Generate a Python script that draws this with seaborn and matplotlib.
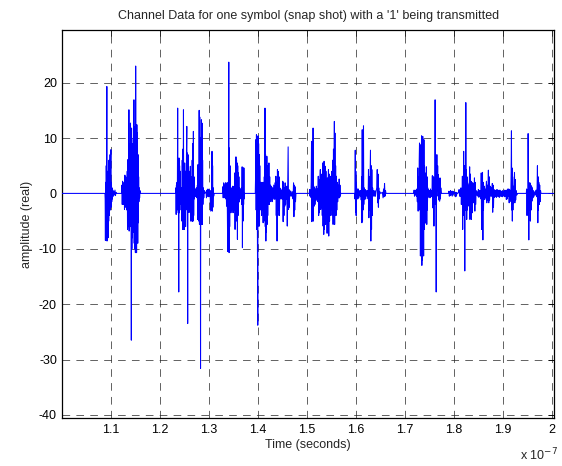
import numpy as np
import pandas as pd
import matplotlib
matplotlib.use("Agg")
import matplotlib.pyplot as plt
import seaborn as sns

# ---- data: time in units of 1e-7 s, amplitude (real) ----
b1_t = [1.0885, 1.0890, 1.0895, 1.0900, 1.0905, 1.0912, 1.0918, 1.0924, 1.0928, 1.0934, 1.0940, 1.0946, 1.0951, 1.0957,
        1.0962, 1.0968, 1.0973, 1.0979, 1.0985, 1.0990, 1.0996, 1.1002, 1.1007, 1.1012, 1.1018, 1.1024, 1.1030, 1.1038,
        1.1046, 1.1055, 1.1065, 1.1075, 1.1090, 1.1100, 1.1110, 1.1120]
b1_a = [0, -1, -8.5, 2, -8, 5, -3, 19.3, -8.6, 3, -7, 4, -8, 2,
        -5, 6, -4, 5, -2, 7, -3, 5.5, 7.9, -2.5, 2, -1.5, 1, -1,
        0.6, -0.5, 0.3, -0.3, 0.6, -0.4, 0.2, 0]

b2_t = [1.1225, 1.1232, 1.1238, 1.1245, 1.1252, 1.1260, 1.1268, 1.1276, 1.1284, 1.1292, 1.1300, 1.1308, 1.1316, 1.1324,
        1.1332, 1.1340, 1.1346, 1.1352, 1.1358, 1.1364, 1.1369, 1.1374, 1.1379, 1.1385, 1.1390, 1.1396, 1.1401, 1.1406,
        1.1412, 1.1418, 1.1423, 1.1428, 1.1434, 1.1440, 1.1446, 1.1452, 1.1458, 1.1464, 1.1470, 1.1476, 1.1482, 1.1488,
        1.1494, 1.1500, 1.1506, 1.1512, 1.1518, 1.1524, 1.1530, 1.1536, 1.1542, 1.1548, 1.1554, 1.1560, 1.1566, 1.1572,
        1.1578, 1.1585, 1.1592, 1.1600, 1.1610]
b2_a = [0, 1.5, -2, 2.2, -1.5, 1, -2, 2, -2.9, 3.3, -2.5, 3, -2, 2.5,
        -3, 4, -6.5, 6.1, -4, 5, -6, 15.1, -6.8, 9, -5, 8, -4, 12.7,
        -6, 5, -26.5, 11.8, -10, 9, -8, 6, -5, 10, -7, 16.9, -9, 8,
        -10, 12, -10.7, 23, -8, 10, -10.7, 12.4, -6, 11, -9, 7, -5.3, 3,
        -1.5, 1, -0.8, 0.5, 0]

b3_t = [1.2325, 1.2331, 1.2337, 1.2343, 1.2349, 1.2355, 1.2361, 1.2368, 1.2374, 1.2380, 1.2386, 1.2390, 1.2395, 1.2401,
        1.2407, 1.2413, 1.2419, 1.2425, 1.2432, 1.2440, 1.2448, 1.2455, 1.2461, 1.2467, 1.2473, 1.2479, 1.2486, 1.2492,
        1.2498, 1.2505, 1.2511, 1.2518, 1.2524, 1.2530, 1.2536, 1.2542, 1.2548, 1.2554, 1.2560, 1.2566, 1.2572, 1.2578,
        1.2584, 1.2590, 1.2596, 1.2602, 1.2608, 1.2614, 1.2620, 1.2628, 1.2634, 1.2640, 1.2646, 1.2652, 1.2658, 1.2664,
        1.2670, 1.2676, 1.2682, 1.2688, 1.2694, 1.2700, 1.2706, 1.2714, 1.2722, 1.2730, 1.2740, 1.2750, 1.2760, 1.2770,
        1.2776, 1.2782, 1.2788, 1.2794, 1.2800, 1.2806, 1.2812, 1.2818, 1.2824, 1.2830, 1.2834, 1.2840, 1.2846, 1.2852,
        1.2858, 1.2864, 1.2870, 1.2876, 1.2882, 1.2890, 1.2900, 1.2910, 1.2920, 1.2945, 1.2955, 1.2965, 1.2975, 1.2985,
        1.2995, 1.3005, 1.3015, 1.3025, 1.3035, 1.3042, 1.3050, 1.3056, 1.3062, 1.3068, 1.3074, 1.3080, 1.3086, 1.3094,
        1.3102, 1.3112]
b3_a = [0, 1, -3.8, 1.5, -3.5, 2, -2, 15.4, -3, 6, -4, -17.8, 6.4, -3.5,
        5, -3, 4, -2, 1, -1, 1, -5, 6, -6.5, 8, -6, 15.1, -6.5,
        4, -6.5, 5.5, -5, 4, -6, 3, -2, 8, 12.1, -3, 7.3, -23.5, 7,
        -3.4, 4.9, -2.5, 4, -3.4, 3, -2, 4.9, -5, 3, -4, 2, -5, 6,
        -5, 9, -5, 11.2, -4, 3, -1, 0.8, -0.6, 0.8, -0.5, 1, -0.8, 1.5,
        -4.7, 5.2, -4, 4, -5, 15, -5.6, 13.8, -5, 8, -31.6, 10, -5.6, 13.3,
        -5, 12.7, -5.6, 6, -2, 1, -0.8, 0.5, 0, 0.3, -0.8, 0.6, -0.5, 0.8,
        -0.6, 0.7, -0.5, 0.5, -2, -3.2, 0.5, -3, 1, 7.6, -3.2, 5, -2.5, 1,
        -0.5, 0]

b4_t = [1.3280, 1.3288, 1.3296, 1.3305, 1.3313, 1.3322, 1.3330, 1.3340, 1.3348, 1.3356, 1.3364, 1.3372, 1.3380, 1.3388,
        1.3394, 1.3400, 1.3410, 1.3416, 1.3422, 1.3428, 1.3434, 1.3440, 1.3447, 1.3454, 1.3461, 1.3468, 1.3476, 1.3484,
        1.3490, 1.3497, 1.3504, 1.3511, 1.3518, 1.3526, 1.3532, 1.3538, 1.3544, 1.3550, 1.3556, 1.3562, 1.3568, 1.3574,
        1.3580, 1.3586, 1.3592, 1.3598, 1.3604, 1.3610, 1.3616, 1.3622, 1.3630, 1.3640, 1.3650, 1.3660, 1.3668, 1.3676,
        1.3682, 1.3688, 1.3694, 1.3700, 1.3706, 1.3712, 1.3718, 1.3724, 1.3732]
b4_a = [0, 1.2, -0.8, 1.9, -0.6, 1.5, -0.8, 1.9, -1, 1.9, -2.3, 1.5, -2, -10.5,
        2, -10, 23.7, -10.7, 8.2, -6, 5, -3, 0.7, -3.5, 1, -3, 0.8, -2.5,
        1.3, -3.5, 1, -3, 1.3, -2, 3.7, -6.5, 3, -5, 6.6, -4, 6, -5,
        5.5, -8.3, 5, -4, 3.7, -1.7, 3, -1.5, 1, -1, 0.8, -0.8, 1, -2,
        4.8, -9.8, 4.5, -5, 4.6, -2, 4.6, -1, 0]

b5_t = [1.3950, 1.3956, 1.3962, 1.3968, 1.3974, 1.3980, 1.3986, 1.3992, 1.3997, 1.4001, 1.4006, 1.4012, 1.4018, 1.4024,
        1.4030, 1.4036, 1.4042, 1.4048, 1.4054, 1.4062, 1.4070, 1.4078, 1.4086, 1.4094, 1.4102, 1.4110, 1.4118, 1.4126,
        1.4134, 1.4140, 1.4148, 1.4154, 1.4160, 1.4166, 1.4172, 1.4178, 1.4186, 1.4192, 1.4198, 1.4204, 1.4212, 1.4220,
        1.4228, 1.4236, 1.4244, 1.4252, 1.4262, 1.4272, 1.4282, 1.4292, 1.4302, 1.4314, 1.4326, 1.4338, 1.4350, 1.4360,
        1.4370, 1.4378, 1.4386, 1.4394, 1.4402, 1.4410, 1.4418, 1.4426, 1.4434, 1.4442, 1.4450, 1.4460, 1.4470, 1.4480,
        1.4490, 1.4500, 1.4510, 1.4518, 1.4526, 1.4534, 1.4542, 1.4552, 1.4560, 1.4568, 1.4576, 1.4586, 1.4594, 1.4602,
        1.4610, 1.4620, 1.4628, 1.4636, 1.4644, 1.4652, 1.4662, 1.4675, 1.4690, 1.4705, 1.4720, 1.4730, 1.4738, 1.4746,
        1.4754, 1.4762, 1.4770, 1.4780]
b5_a = [0, 3, 9.7, -3, 10.6, -6.5, 9, -5, -16.6, -23.8, 10.4, -5.9, 9, -4,
        7, -5.9, 5, -3, 2, -1.7, 2, -4, 1.5, -3, 2, -5.3, 2, -5,
        3, -4, 15.4, -6, 7, -8.6, 6, -7, 6.7, -5.6, 5, -4, 4, -2,
        5.5, -2, 3, -1.5, 1.5, -1, 1.2, -1.5, 1, -1, 1.5, -1.1, 1.9, -1,
        3.1, -4, 2, -8.6, 4.3, -4, 4, -3, 3, -4, 1, -1, 0.8, -1,
        0.5, -1, 2.2, -5.1, 2, -4, 1, -2.3, 1.9, -2, 1, -1, 1.3, -5.9,
        1, 8.4, -2.9, 0.7, -2.5, 0.5, -0.5, 0.4, -0.5, 0.3, -1, 1.9, -4.2, 1.5,
        -3, 1.2, -1.5, 0]

b6_t = [1.5050, 1.5058, 1.5066, 1.5074, 1.5082, 1.5090, 1.5097, 1.5104, 1.5112, 1.5120, 1.5128, 1.5134, 1.5142, 1.5150,
        1.5158, 1.5166, 1.5175, 1.5185, 1.5195, 1.5205, 1.5215, 1.5225, 1.5234, 1.5242, 1.5250, 1.5258, 1.5266, 1.5276,
        1.5284, 1.5292, 1.5300, 1.5308, 1.5316, 1.5324, 1.5332, 1.5340, 1.5346, 1.5352, 1.5358, 1.5364, 1.5370, 1.5376,
        1.5382, 1.5390, 1.5398, 1.5406, 1.5414, 1.5420, 1.5428, 1.5436, 1.5442, 1.5448, 1.5456, 1.5464, 1.5472, 1.5480,
        1.5488, 1.5496, 1.5504, 1.5512, 1.5520, 1.5528, 1.5536, 1.5544, 1.5552, 1.5562, 1.5568, 1.5574, 1.5580, 1.5588,
        1.5596, 1.5604, 1.5612, 1.5620, 1.5630, 1.5640, 1.5650, 1.5660, 1.5668, 1.5676, 1.5684, 1.5692]
b6_a = [0, 0.7, -0.5, 0.6, -0.7, 2, 9.4, -5.1, 6, -4, 11.8, -5, 1.3, -2.3,
        1, -2, 0.8, -1.3, 1.3, -1, 0.8, -1.5, 3.1, -4, 2.5, -3.5, 2, 4.3,
        -2.9, 3.5, -2.5, 3, -4, 5.5, -5.9, 5, -7.4, 5.8, -6.5, 4.5, -5, 4.9,
        -5.6, 4, -4, 2, -7.2, 2.8, -3, 2, 4.3, -7.7, 3.5, -5, 2, 3.1,
        -4, 2.5, -3, 4, -4, 6, -5.6, 8, -5, 13, -5.6, 10.9, -4, 5,
        -4, 3.1, -3, 2, -1.5, 1.5, -0.8, 2.6, -0.8, 1.5, -0.5, 0]

b7_t = [1.5975, 1.5982, 1.5988, 1.5994, 1.6000, 1.6006, 1.6012, 1.6020, 1.6030, 1.6040, 1.6050, 1.6062, 1.6075, 1.6088,
        1.6100, 1.6110, 1.6118, 1.6124, 1.6130, 1.6136, 1.6142, 1.6148, 1.6156, 1.6162, 1.6170, 1.6180, 1.6190, 1.6200,
        1.6212, 1.6225, 1.6238, 1.6250, 1.6258, 1.6266, 1.6274, 1.6282, 1.6290, 1.6298, 1.6306, 1.6314, 1.6320, 1.6326,
        1.6334, 1.6342, 1.6352, 1.6365, 1.6378, 1.6390, 1.6400, 1.6410, 1.6428, 1.6436, 1.6444, 1.6452, 1.6460, 1.6468,
        1.6476, 1.6490, 1.6510, 1.6540, 1.6555, 1.6565, 1.6575, 1.6585, 1.6595, 1.6605, 1.6615]
b7_a = [0, -1, 7.8, -3.4, 4, -4, 2, -1, 0.8, -1, 0.8, -0.8, 0.5, -0.5,
        0.5, -1.2, 3, -5.3, 11.5, -5, 6, -3, 12.2, -2, 1, -1.1, 0.7, -1,
        0.5, -0.5, 0.5, -1, 4.3, -4.4, 3, -3, 2, 7.8, -8.6, 5, -6.5, 4.3,
        -4, 1, -0.5, 0.5, -0.5, 0.5, -0.5, 0.3, 1, 4.3, -1.7, 3.5, -2.5, 1,
        -1, 0.3, 0, 0.2, -0.8, 0.8, -0.6, 1.8, -0.5, 0.5, 0]

b8_t = [1.7180, 1.7188, 1.7196, 1.7205, 1.7215, 1.7225, 1.7235, 1.7245, 1.7254, 1.7262, 1.7270, 1.7278, 1.7286, 1.7292,
        1.7298, 1.7304, 1.7310, 1.7316, 1.7322, 1.7328, 1.7334, 1.7340, 1.7346, 1.7352, 1.7358, 1.7364, 1.7370, 1.7376,
        1.7382, 1.7388, 1.7394, 1.7400, 1.7406, 1.7412, 1.7418, 1.7424, 1.7430, 1.7438, 1.7446, 1.7452, 1.7458, 1.7466,
        1.7474, 1.7482, 1.7492, 1.7502, 1.7512, 1.7522, 1.7532, 1.7542, 1.7552, 1.7560, 1.7566, 1.7572, 1.7578, 1.7584,
        1.7592, 1.7600, 1.7608, 1.7616, 1.7622, 1.7628, 1.7638, 1.7646, 1.7652, 1.7660, 1.7668, 1.7676, 1.7684, 1.7692,
        1.7700, 1.7708, 1.7716, 1.7724, 1.7732, 1.7742]
b8_a = [0, 0.6, -0.5, 0.5, -0.3, 0.6, -0.5, 0.8, -1.5, 4.6, -3.2, 3, -2.5, 6,
        9.1, -3, 8.8, -11.3, 7, -9, 6, 10.4, -13, 9, -12, 10.3, -10.4, 8,
        -11.3, 9.7, -6.5, 5, -5, 3.7, -4, 3, -5.4, 4.8, -5.6, 3, -3, 1,
        -0.7, 0.7, -0.5, 0.5, -0.8, 0.8, -0.6, 0.5, -0.5, 3.2, -2.6, 2, -2, 3,
        -5.9, 2, -2, 16.9, 2, 5, -17.8, 3, 7, 0.5, 5, -0.5, 3.4, -1.2,
        2.5, -1.4, 2.8, -1, 1, 0]

b9_t = [1.7890, 1.7898, 1.7906, 1.7914, 1.7922, 1.7932, 1.7942, 1.7952, 1.7965, 1.7975, 1.7985, 1.7998, 1.8010, 1.8020,
        1.8030, 1.8040, 1.8050, 1.8062, 1.8075, 1.8095, 1.8105, 1.8115, 1.8125, 1.8135, 1.8143, 1.8151, 1.8159, 1.8166,
        1.8172, 1.8178, 1.8184, 1.8190, 1.8198, 1.8204, 1.8210, 1.8216, 1.8221, 1.8228, 1.8236, 1.8242, 1.8248, 1.8254,
        1.8260, 1.8266, 1.8272, 1.8280, 1.8288, 1.8296, 1.8304, 1.8312, 1.8320, 1.8326, 1.8334, 1.8340, 1.8348, 1.8356,
        1.8364, 1.8372, 1.8380, 1.8388, 1.8396, 1.8404, 1.8412, 1.8418, 1.8426, 1.8434, 1.8442, 1.8452, 1.8462, 1.8475,
        1.8488, 1.8498, 1.8508, 1.8518, 1.8528, 1.8540, 1.8550, 1.8556, 1.8564, 1.8570, 1.8576, 1.8582, 1.8590, 1.8596,
        1.8602, 1.8610, 1.8620, 1.8628, 1.8636, 1.8645, 1.8655, 1.8662, 1.8670, 1.8678, 1.8686, 1.8694, 1.8702, 1.8710,
        1.8718, 1.8726, 1.8735, 1.8744, 1.8752, 1.8762, 1.8772, 1.8782, 1.8790, 1.8798, 1.8806, 1.8814, 1.8824, 1.8834,
        1.8845, 1.8856, 1.8866, 1.8876, 1.8886, 1.8896, 1.8906, 1.8916, 1.8926, 1.8936, 1.8946, 1.8956, 1.8966, 1.8976,
        1.8986, 1.8996, 1.9006, 1.9016, 1.9028, 1.9038, 1.9048, 1.9058, 1.9068, 1.9078, 1.9088, 1.9098, 1.9108, 1.9118,
        1.9126, 1.9134, 1.9142, 1.9150, 1.9158, 1.9166, 1.9172, 1.9178, 1.9184, 1.9190, 1.9196, 1.9202, 1.9210, 1.9218,
        1.9226, 1.9234, 1.9242, 1.9250, 1.9258, 1.9268, 1.9280, 1.9295, 1.9475, 1.9482, 1.9490, 1.9498, 1.9505, 1.9512,
        1.9520, 1.9526, 1.9534, 1.9542, 1.9550, 1.9558, 1.9566, 1.9574, 1.9582, 1.9590, 1.9600, 1.9610, 1.9622, 1.9635,
        1.9650, 1.9665, 1.9675, 1.9685, 1.9695, 1.9702, 1.9710, 1.9716, 1.9722, 1.9730, 1.9738, 1.9748, 1.9756, 1.9765,
        1.9775]
b9_a = [0, 0.4, -0.5, 0.3, -0.4, 0.5, -0.3, 0.3, -0.5, 0.4, -0.3, 0.3, 0, 0.2,
        -0.6, 0.2, -0.5, 0.1, 0, 0.2, 0.7, -0.5, 0.5, -0.5, 1, -2, 0.8, -1.5,
        3.1, -6.5, 2, -4, 7.6, -3.5, 5, -3, -14, 2, -3, 16.4, -2, 4.3,
        -4.7, 3, -3, 1.9, -2.3, 1.5, -2, 1, 4.8, -4.7, 3.5, -3, 2.2, -4.7,
        2, -3.5, 1, 1.9, -1.7, 1.5, -1, 2.8, -3.2, 2, -2, 0.5, -0.3, 0.3,
        -0.5, 0.7, -0.7, 0.5, -0.5, 0.5, -1, 3.7, -6.5, 2.5, -4, 3.8, -8.4, 2,
        -3, 1, 1.3, -1.1, 0.8, -0.8, 1, 2.2, -1.7, 1.5, -1.2, 1, 4.2, -1.7,
        3, -1.2, 0.5, 1.3, -0.5, 1, -0.5, 1.8, -3.4, 1.5, -2.5, 0.7, -0.7, 0.6,
        -0.6, 0.5, -0.7, 0.7, -0.5, 0.6, -0.6, 0.5, -0.7, 0.6, -0.5, 0.4, -0.5, 0.4,
        -0.6, 0.5, -0.4, 0.3, -0.6, 0.6, -0.5, 0.5, -1.1, 0.6, -1, 0.8, -0.5, 0.8,
        -1.7, 0.7, -1.5, 0.5, -1, 4, 11.3, -3, 4.6, -5, 3, -3, 1.3, -1.7,
        1, 3.8, -1.7, 2.5, -1.2, 0.5, -0.3, 0, 0, 0.8, -4, 0.5, -2, 10.8,
        1, -8.4, 1.9, -3, 1.9, -5, 1.5, -3, 1.3, -1.4, 1, -0.8, 0.5, -0.5,
        0.3, -0.3, 0.6, -0.6, 1, 5, -5.3, 3, -3, 2, -2, 1.5, -1.5, 0.5,
        0]

t_start, t_end = 1.0, 2.004
x_ticks = [1.1, 1.2, 1.3, 1.4, 1.5, 1.6, 1.7, 1.8, 1.9, 2.0]
x_ticklabels = ["1.1", "1.2", "1.3", "1.4", "1.5", "1.6", "1.7", "1.8", "1.9", "2"]
y_ticks = [-40, -30, -20, -10, 0, 10, 20]

# ---- assemble ----
bursts_t = [b1_t, b2_t, b3_t, b4_t, b5_t, b6_t, b7_t, b8_t, b9_t]
bursts_a = [b1_a, b2_a, b3_a, b4_a, b5_a, b6_a, b7_a, b8_a, b9_a]
t_all = [t_start] + [v for b in bursts_t for v in b] + [t_end]
a_all = [0.0] + [v for b in bursts_a for v in b] + [0.0]
df = pd.DataFrame({"t": t_all, "amp": a_all})

sns.set_style("white")
plt.rcParams["font.family"] = ["Liberation Sans", "DejaVu Sans"]
plt.rcParams["lines.scale_dashes"] = False

fig = plt.figure(figsize=(5.62, 4.66), dpi=100)
ax = fig.add_axes([0.1112, 0.1024, 0.8746, 0.8332])

sns.lineplot(data=df, x="t", y="amp", ax=ax, color="#0000ff", linewidth=0.75,
             estimator=None, sort=False, errorbar=None, zorder=3)

ax.set_xlim(1.002, t_end)
ax.set_ylim(-40.6, 29.5)
ax.set_xticks(x_ticks)
ax.set_xticklabels(x_ticklabels)
ax.set_yticks(y_ticks)
ax.set_yticklabels([str(v) for v in y_ticks])

ax.grid(True, color="#222222", linestyle=(0, (5.5, 4.5)), linewidth=0.5, zorder=1)
ax.set_axisbelow(True)
# the zero gridline is hidden beneath the signal's baseline in the original
for val, gl in zip(y_ticks, ax.yaxis.get_gridlines()):
    if val == 0:
        gl.set_visible(False)
for s in ax.spines.values():
    s.set_color("black")
    s.set_linewidth(0.9)
ax.tick_params(direction="in", length=4, width=0.6, top=True, right=True,
               labelsize=9, colors="black", pad=4)

ax.set_title("Channel Data for one symbol (snap shot) with a '1' being transmitted",
             fontsize=9, pad=8)
ax.set_xlabel("Time (seconds)", fontsize=9, labelpad=2)
ax.set_ylabel("amplitude (real)", fontsize=9, labelpad=4)
fig.text(0.925, 0.006, r"x 10$^{-7}$", fontsize=9, ha="left", va="bottom")

fig.savefig("out.png", dpi=100, facecolor="white")
